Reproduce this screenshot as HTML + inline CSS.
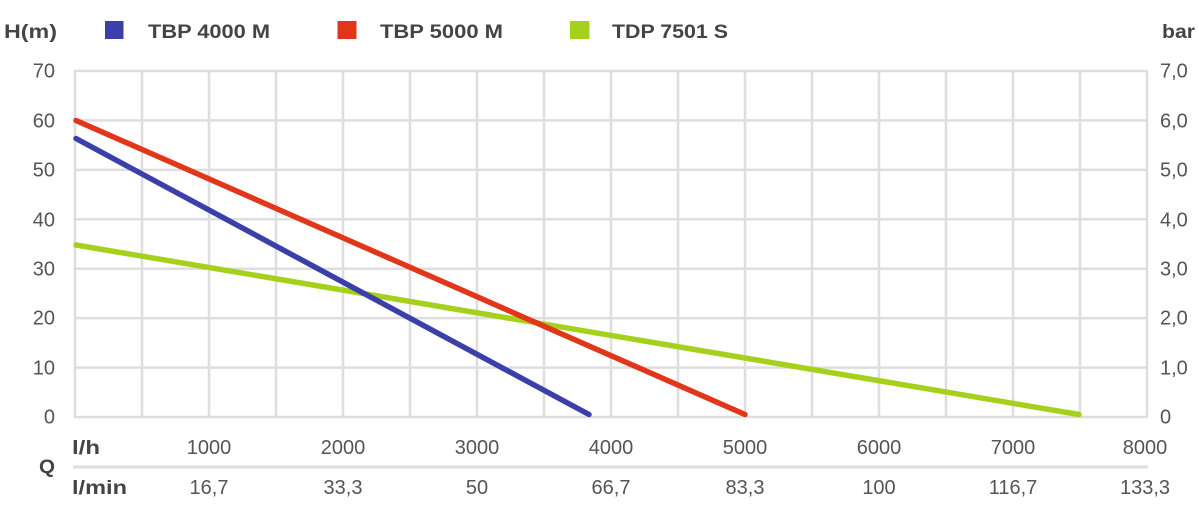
<!DOCTYPE html>
<html>
<head>
<meta charset="utf-8">
<style>
  html,body{margin:0;padding:0;background:#fff;}
  svg{display:block;}
  .num{font-family:"Liberation Sans",sans-serif;font-size:20px;fill:#555;}
  .lbl{font-family:"Liberation Sans",sans-serif;font-size:19px;font-weight:bold;fill:#444;}
</style>
</head>
<body>
<svg width="1199" height="531" viewBox="0 0 1199 531" xmlns="http://www.w3.org/2000/svg">
  <!-- grid -->
  <g stroke="#dedede" stroke-width="2.5" fill="none">
    <line x1="75" y1="71" x2="75" y2="417"/>
    <line x1="142" y1="71" x2="142" y2="417"/>
    <line x1="209" y1="71" x2="209" y2="417"/>
    <line x1="276" y1="71" x2="276" y2="417"/>
    <line x1="343" y1="71" x2="343" y2="417"/>
    <line x1="410" y1="71" x2="410" y2="417"/>
    <line x1="477" y1="71" x2="477" y2="417"/>
    <line x1="544" y1="71" x2="544" y2="417"/>
    <line x1="611" y1="71" x2="611" y2="417"/>
    <line x1="678" y1="71" x2="678" y2="417"/>
    <line x1="745" y1="71" x2="745" y2="417"/>
    <line x1="812" y1="71" x2="812" y2="417"/>
    <line x1="879" y1="71" x2="879" y2="417"/>
    <line x1="946" y1="71" x2="946" y2="417"/>
    <line x1="1013" y1="71" x2="1013" y2="417"/>
    <line x1="1080" y1="71" x2="1080" y2="417"/>
    <line x1="1147" y1="71" x2="1147" y2="417"/>

    <line x1="74" y1="71" x2="1148" y2="71"/>
    <line x1="74" y1="120.4" x2="1148" y2="120.4"/>
    <line x1="74" y1="169.9" x2="1148" y2="169.9"/>
    <line x1="74" y1="219.3" x2="1148" y2="219.3"/>
    <line x1="74" y1="268.7" x2="1148" y2="268.7"/>
    <line x1="74" y1="318.1" x2="1148" y2="318.1"/>
    <line x1="74" y1="367.6" x2="1148" y2="367.6"/>
    <line x1="74" y1="417" x2="1148" y2="417"/>
  </g>
  <!-- separator -->
  <line x1="73" y1="467" x2="1148" y2="467" stroke="#dedede" stroke-width="3"/>

  <!-- series -->
  <g stroke-width="5.5" stroke-linecap="round" fill="none">
    <line x1="76" y1="245" x2="1079" y2="414.5" stroke="#a5d11c"/>
    <line x1="76" y1="138.5" x2="589" y2="414.5" stroke="#3b3fa8"/>
    <line x1="76" y1="120.5" x2="745" y2="414.5" stroke="#e2361b"/>
  </g>

  <!-- legend -->
  <text class="lbl" x="4" y="38" textLength="53" lengthAdjust="spacingAndGlyphs">H(m)</text>
  <rect x="105" y="21" width="18.5" height="18" fill="#3b3fa8"/>
  <text class="lbl" x="148" y="38" textLength="122" lengthAdjust="spacingAndGlyphs">TBP 4000 M</text>
  <rect x="337.5" y="21" width="19" height="18" fill="#e2361b"/>
  <text class="lbl" x="380" y="38" textLength="123" lengthAdjust="spacingAndGlyphs">TBP 5000 M</text>
  <rect x="570" y="21" width="19.5" height="18" fill="#a5d11c"/>
  <text class="lbl" x="612" y="38" textLength="116" lengthAdjust="spacingAndGlyphs">TDP 7501 S</text>
  <text class="lbl" x="1162" y="38" textLength="33" lengthAdjust="spacingAndGlyphs">bar</text>

  <!-- left axis -->
  <g class="num" text-anchor="end">
    <text x="55" y="77.5">70</text>
    <text x="55" y="127.5">60</text>
    <text x="55" y="176.5">50</text>
    <text x="55" y="226.5">40</text>
    <text x="55" y="275.5">30</text>
    <text x="55" y="324.5">20</text>
    <text x="55" y="374.5">10</text>
    <text x="55" y="423.5">0</text>
  </g>
  <!-- right axis -->
  <g class="num" text-anchor="start">
    <text x="1160" y="77.5">7,0</text>
    <text x="1160" y="127.5">6,0</text>
    <text x="1160" y="176.5">5,0</text>
    <text x="1160" y="226.5">4,0</text>
    <text x="1160" y="275.5">3,0</text>
    <text x="1160" y="324.5">2,0</text>
    <text x="1160" y="374.5">1,0</text>
    <text x="1160" y="423.5">0</text>
  </g>

  <!-- bottom axis -->
  <text class="lbl" x="72" y="454" textLength="28" lengthAdjust="spacingAndGlyphs">l/h</text>
  <text class="lbl" x="39" y="473" textLength="16" lengthAdjust="spacingAndGlyphs">Q</text>
  <text class="lbl" x="72" y="494" textLength="55" lengthAdjust="spacingAndGlyphs">l/min</text>
  <g class="num" text-anchor="middle">
    <text x="209" y="454">1000</text>
    <text x="343" y="454">2000</text>
    <text x="477" y="454">3000</text>
    <text x="611" y="454">4000</text>
    <text x="745" y="454">5000</text>
    <text x="879" y="454">6000</text>
    <text x="1013" y="454">7000</text>
    <text x="1145" y="454">8000</text>

    <text x="209" y="494">16,7</text>
    <text x="343" y="494">33,3</text>
    <text x="477" y="494">50</text>
    <text x="611" y="494">66,7</text>
    <text x="745" y="494">83,3</text>
    <text x="879" y="494">100</text>
    <text x="1013" y="494">116,7</text>
    <text x="1145" y="494">133,3</text>
  </g>
</svg>
</body>
</html>
